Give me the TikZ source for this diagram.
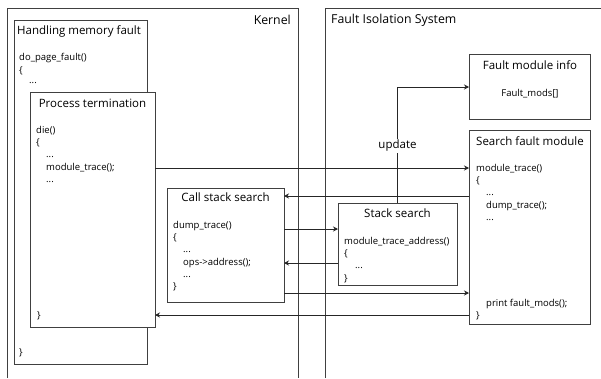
\documentclass[tikz,border=0pt]{standalone}
\usepackage{fontspec}
\setmainfont{Open Sans}
\usetikzlibrary{arrows.meta}
\begin{document}
\begin{tikzpicture}[x=1pt,y=-1pt,
  frame/.style={draw=black!75, line width=0.8pt},
  box/.style={draw=black!75, line width=0.8pt, fill=white, anchor=north west, inner sep=0pt, outer sep=0pt},
  ttl/.style={font=\fontsize{11.5}{13}\selectfont, inner sep=0pt},
  bigttl/.style={font=\fontsize{12.3}{14}\selectfont, inner sep=0pt},
  code/.style={font=\fontsize{9.5}{11}\selectfont, inner sep=0pt, anchor=base west},
  arr/.style={-{Stealth[length=5pt,width=5pt]}, line width=0.8pt, draw=black!85}]
\useasboundingbox (0,0) rectangle (601,378);
\fill[white] (0,0) rectangle (601,378);
% outer frames
\draw[frame] (7,378) -- (7,8) -- (298,8) -- (298,378);
\draw[frame] (325,378) -- (325,8) -- (601,8);
\node[bigttl, anchor=east] (kl) at (291,20) {Kernel};
\node[bigttl, anchor=west] (fl) at (331,20) {Fault Isolation System};
% boxes
\node[box, minimum width=133pt, minimum height=344pt] (hmf) at (14,20) {};
\node[box, minimum width=125pt, minimum height=235pt] (pt) at (30,92) {};
\node[box, minimum width=117pt, minimum height=114pt] (css) at (167,188) {};
\node[box, minimum width=119pt, minimum height=82pt] (ss) at (338,203) {};
\node[box, minimum width=121pt, minimum height=65pt] (fmi) at (469,54) {};
\node[box, minimum width=121pt, minimum height=194pt] (sfm) at (469,130) {};
% hmf text
\node[ttl, anchor=west] (hmft) at (17,31) {Handling memory fault};
\node[code] (h1) at (19,60) {do\_page\_fault()};
\node[code] (h2) at (19,73) {\{};
\node[code] (h3) at (29,83) {...};
\node[code] (h4) at (19,355) {\}};
% pt text
\node[ttl] (ptt) at (92.5,103) {Process termination};
\node[code] (p1) at (36,133) {die()};
\node[code] (p2) at (36,145) {\{};
\node[code] (p3) at (46,157) {...};
\node[code] (p4) at (46,170) {module\_trace();};
\node[code] (p5) at (46,182) {...};
\node[code] (p6) at (37,318) {\}};
% css text
\node[ttl] (csst) at (225.5,197) {Call stack search};
\node[code] (c1) at (173,228) {dump\_trace()};
\node[code] (c2) at (173,240) {\{};
\node[code] (c3) at (183,252) {...};
\node[code] (c4) at (183,265) {ops->address();};
\node[code] (c5) at (183,277) {...};
\node[code] (c6) at (173,289) {\}};
% ss text
\node[ttl] (sst) at (397.5,213) {Stack search};
\node[code] (s1) at (344,244) {module\_trace\_address()};
\node[code] (s2) at (344,256) {\{};
\node[code] (s3) at (355,268) {...};
\node[code] (s4) at (344,281) {\}};
% fmi text
\node[ttl] (fmit) at (530,65) {Fault module info};
\node[code, anchor=base] (f1) at (530,96) {Fault\_mods[]};
% sfm text
\node[ttl] (sfmt) at (530,141) {Search fault module};
\node[code] (m1) at (476,171) {module\_trace()};
\node[code] (m2) at (476,183) {\{};
\node[code] (m3) at (486,195) {...};
\node[code] (m4) at (486,208) {dump\_trace();};
\node[code] (m5) at (486,220) {...};
\node[code] (m6) at (486,306) {print fault\_mods();};
\node[code] (m7) at (476,318) {\}};
% arrows
\draw[arr] (pt.east |- 0,168) -- (sfm.west |- 0,168);
\draw[arr] (sfm.west |- 0,196) -- (css.east |- 0,196);
\draw[arr] (css.east |- 0,229) -- (ss.west |- 0,229);
\draw[arr] (ss.west |- 0,263) -- (css.east |- 0,263);
\draw[arr] (css.east |- 0,293) -- (sfm.west |- 0,293);
\draw[arr] (sfm.west |- 0,315) -- (pt.east |- 0,315);
\draw[arr] (ss.north) -- (ss.north |- 0,87) -- (fmi.west |- 0,87);
\node[ttl, fill=white, inner sep=1pt] (upd) at (397.5,146) {update};
\end{tikzpicture}
\end{document}
